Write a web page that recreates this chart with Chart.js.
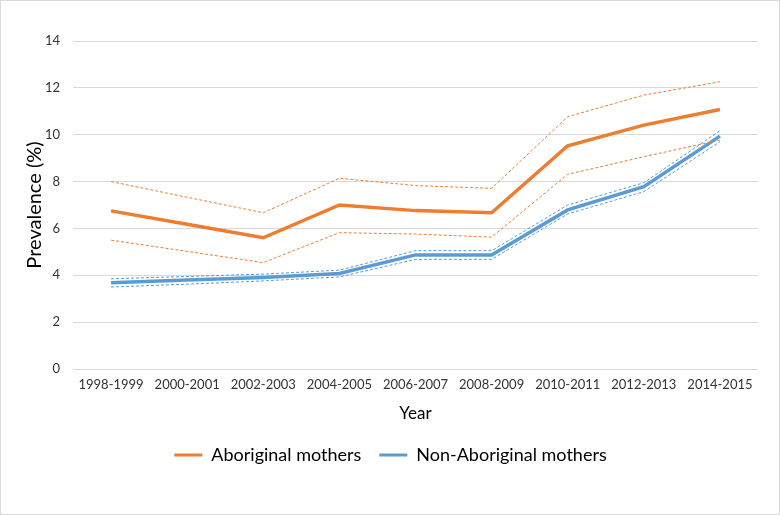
<!DOCTYPE html>
<html>
<head>
<meta charset="utf-8">
<script src="https://cdn.jsdelivr.net/npm/chart.js@4"></script>
<style>
  body { margin: 0; background: #fff; }
  #wrap { position: absolute; left: 0; top: 0; width: 778px; height: 513px; border: 1px solid #d9d9d9; }
</style>
</head>
<body>
<div id="wrap"><canvas id="myChart"></canvas></div>
<script>
// periods on the x axis
const years = ['1998-1999', '2000-2001', '2002-2003', '2004-2005', '2006-2007',
               '2008-2009', '2010-2011', '2012-2013', '2014-2015'];

// Aboriginal mothers, estimate + 95% CI
const aboriginal      = [6.75, 6.18, 5.60, 7.00, 6.76, 6.67, 9.53, 10.41, 11.08];
const aboriginalUpper = [8.00, 7.33, 6.67, 8.14, 7.83, 7.71, 10.77, 11.69, 12.26];
const aboriginalLower = [5.50, 5.02, 4.54, 5.82, 5.76, 5.63, 8.31, 9.06, 9.77];

// Non-Aboriginal mothers, estimate + 95% CI
const nonAboriginal      = [3.68, 3.80, 3.91, 4.08, 4.87, 4.87, 6.79, 7.78, 9.94];
const nonAboriginalUpper = [3.85, 3.95, 4.05, 4.22, 5.05, 5.05, 7.00, 7.95, 10.17];
const nonAboriginalLower = [3.50, 3.62, 3.76, 3.93, 4.68, 4.68, 6.62, 7.57, 9.70];

const yTicks = [0, 2, 4, 6, 8, 10, 12, 14];

const orange = '#ED7D31';
const blue = '#5B9BD5';
const font = 'Lato, "Open Sans", sans-serif';

const ciLine = (data, color) => ({
  label: '',
  data: data,
  borderColor: color,
  borderWidth: 1,
  borderDash: [3, 2],
  pointRadius: 0,
  fill: false,
});

const mainLine = (label, data, color) => ({
  label: label,
  data: data,
  borderColor: color,
  backgroundColor: color,
  borderWidth: 3.5,
  pointRadius: 0,
  fill: false,
});

const ctx = document.getElementById('myChart');
new Chart(ctx, {
  type: 'line',
  data: {
    labels: years,
    datasets: [
      ciLine(aboriginalUpper, orange),
      ciLine(aboriginalLower, orange),
      ciLine(nonAboriginalUpper, blue),
      ciLine(nonAboriginalLower, blue),
      mainLine('Aboriginal mothers', aboriginal, orange),
      mainLine('Non-Aboriginal mothers', nonAboriginal, blue),
    ],
  },
  options: {
    responsive: true,
    maintainAspectRatio: false,
    animation: false,
    layout: { padding: { top: 40, right: 21, left: 22, bottom: 40 } },
    plugins: {
      tooltip: { enabled: false },
      legend: {
        position: 'bottom',
        labels: {
          filter: (item) => item.text !== '',
          boxWidth: 28,
          boxHeight: 3,
          padding: 18,
          color: '#000',
          font: { family: font, size: 18 },
          generateLabels: (chart) => chart.data.datasets.map((ds, i) => ({
            text: ds.label,
            fillStyle: ds.borderColor,
            strokeStyle: ds.borderColor,
            lineWidth: 0,
            datasetIndex: i,
          })),
        },
      },
    },
    scales: {
      x: {
        offset: true,
        grid: { display: false },
        border: { display: false },
        ticks: { color: '#333', font: { family: font, size: 13 }, padding: 0, maxRotation: 0 },
        title: { display: true, text: 'Year', color: '#000', font: { family: font, size: 17 }, padding: { top: 11, bottom: 4 } },
      },
      y: {
        min: 0,
        max: 14,
        afterBuildTicks: (axis) => { axis.ticks = yTicks.map(v => ({ value: v })); },
        afterFit: (axis) => { axis.width = 50; },
        grid: { color: '#d9d9d9', drawTicks: false },
        border: { display: false },
        ticks: { color: '#333', font: { family: font, size: 13 }, padding: 13 },
        title: { display: true, text: 'Prevalence (%)', color: '#000', font: { family: font, size: 20 }, padding: 0 },
      },
    },
  },
});
</script>
</body>
</html>
